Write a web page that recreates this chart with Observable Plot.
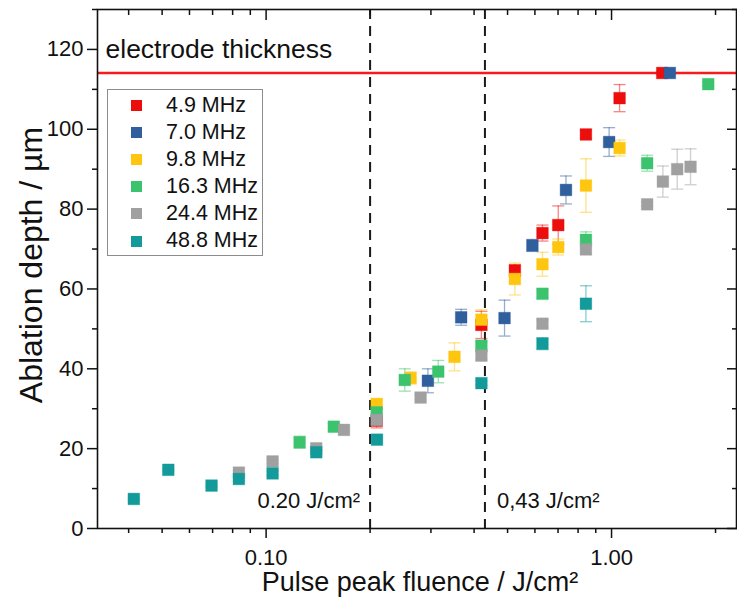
<!DOCTYPE html>
<html><head><meta charset="utf-8">
<script src="https://cdn.jsdelivr.net/npm/d3@7"></script>
<script src="https://cdn.jsdelivr.net/npm/@observablehq/plot@0.6"></script>
<style>
body{margin:0;background:#fff;}
#wrap{position:relative;width:737px;height:616px;font-family:"Liberation Sans",Arial,sans-serif;}
#legend{position:absolute;left:107px;top:89px;width:156px;height:167px;border:1px solid #8c8c8c;box-sizing:border-box;background:#fff;padding-top:2px;}
.row{display:flex;align-items:center;height:27.1px;}
.sw{width:11px;height:11px;margin-left:23px;}
.lb{margin-left:24px;font-size:21.5px;color:#111;line-height:1;}
</style></head><body><div id="wrap"></div>
<script>
// ---- data ----
const seriesNames = ["4.9 MHz","7.0 MHz","9.8 MHz","16.3 MHz","24.4 MHz","48.8 MHz"];
const seriesColors = ["#ec0d0d","#2f5f9c","#ffc60f","#3cc36e","#a0a0a0","#139a9a"];

const fluence49 = [0.209,0.420,0.525,0.631,0.701,0.843,1.055,1.402];
const depth49   = [27.0,51.0,64.6,74.0,76.0,98.7,107.8,114.1];
const err49     = [1.8,3.4,1.5,2.0,4.8,1.0,3.4,0.5];

const fluence70 = [0.294,0.367,0.490,0.590,0.738,0.984,1.475];
const depth70   = [37.0,52.9,52.7,70.9,84.8,96.8,114.1];
const err70     = [3.0,2.0,4.5,1.5,3.5,3.6,0.5];

const fluence98 = [0.209,0.262,0.351,0.420,0.525,0.631,0.701,0.843,1.055];
const depth98   = [31.2,37.7,43.0,52.3,62.5,66.2,70.5,85.9,95.3];
const err98     = [1.0,1.5,3.5,2.5,4.0,3.0,2.0,6.7,2.0];

const fluence163 = [0.125,0.157,0.209,0.252,0.315,0.420,0.631,0.843,1.268,1.905];
const depth163   = [21.6,25.5,29.1,37.2,39.3,45.8,58.8,72.3,91.5,111.3];
const err163     = [1.5,0.8,1.0,2.8,2.8,1.0,1.0,2.0,2.0,0.5];

const fluence244 = [0.0834,0.1044,0.1397,0.168,0.209,0.280,0.420,0.631,0.843,1.268,1.408,1.549,1.693];
const depth244   = [14.0,16.8,20.1,24.7,27.2,32.8,43.3,51.3,69.9,81.2,86.9,90.0,90.6];
const err244     = [0.5,0.5,0.5,0.5,1.0,0.5,1.0,1.0,1.0,0.5,3.9,5.0,4.5];

const fluence488 = [0.0414,0.0521,0.0695,0.0834,0.1044,0.1397,0.2094,0.420,0.631,0.843];
const depth488   = [7.4,14.7,10.75,12.4,13.8,19.1,22.25,36.4,46.3,56.3];
const err488     = [0.3,0.3,0.3,0.5,0.5,0.5,0.5,0.5,1.5,4.5];

const thresholds = [0.20, 0.43];
const thresholdLabels = ["0.20 J/cm²", "0,43 J/cm²"];
const electrodeThickness = 114.1;
const electrodeLabel = "electrode thickness";

const xMajorTicks = [0.1, 1];
const xMinorTicks = [0.04,0.05,0.06,0.07,0.08,0.09,0.2,0.3,0.4,0.5,0.6,0.7,0.8,0.9,2];
const yMajorTicks = [0,20,40,60,80,100,120];
const yMinorTicks = [10,30,50,70,90,110,130];
const xTitle = "Pulse peak fluence / J/cm²";
const yTitle = "Ablation depth / µm";

// ---- build table ----
const seriesData = [
  [fluence49, depth49, err49],
  [fluence70, depth70, err70],
  [fluence98, depth98, err98],
  [fluence163, depth163, err163],
  [fluence244, depth244, err244],
  [fluence488, depth488, err488]
];
const rows = [];
seriesData.forEach(([xs, ys, es], i) => {
  xs.forEach((x, j) => rows.push({series: seriesNames[i], x, y: ys[j], e: es[j]}));
});

const capSymbol = {draw(ctx, size) { const w = Math.sqrt(size / Math.PI); ctx.moveTo(-w, 0); ctx.lineTo(w, 0); }};
const font = "Liberation Sans, Arial, sans-serif";
const blank = () => "";

const chart = Plot.plot({
  width: 737, height: 616,
  marginLeft: 97, marginRight: 1, marginTop: 9, marginBottom: 88,
  style: {fontFamily: font, fontSize: "22px", color: "#111", background: "#fff"},
  x: {type: "log", domain: [0.0325, 2.30], label: null},
  y: {domain: [0, 130], label: null},
  color: {domain: seriesNames, range: seriesColors},
  marks: [
    Plot.ruleX(thresholds, {stroke: "#1a1a1a", strokeWidth: 2, strokeDasharray: "10,7"}),
    Plot.ruleY([electrodeThickness], {stroke: "#f51c1c", strokeWidth: 2.3}),
    Plot.text([electrodeLabel], {frameAnchor: "left", y: [electrodeThickness], textAnchor: "start", lineAnchor: "bottom", dx: 8, dy: -15, fontSize: 26.5, fill: "#111"}),
    Plot.text([thresholds[0]], {x: d => d, frameAnchor: "bottom", text: () => thresholdLabels[0], textAnchor: "end", lineAnchor: "bottom", dx: -10, dy: -21, fontSize: 22, fill: "#111"}),
    Plot.text([thresholds[1]], {x: d => d, frameAnchor: "bottom", text: () => thresholdLabels[1], textAnchor: "start", lineAnchor: "bottom", dx: 12, dy: -21, fontSize: 22, fill: "#111"}),
    // error bars
    Plot.ruleX(rows, {x: "x", y1: d => d.y - d.e, y2: d => d.y + d.e, stroke: "series", strokeOpacity: 0.5, strokeWidth: 1.3}),
    Plot.dot(rows, {x: "x", y: d => d.y + d.e, symbol: capSymbol, r: 6, fill: "none", stroke: "series", strokeOpacity: 0.5, strokeWidth: 1.3}),
    Plot.dot(rows, {x: "x", y: d => d.y - d.e, symbol: capSymbol, r: 6, fill: "none", stroke: "series", strokeOpacity: 0.5, strokeWidth: 1.3}),
    // markers
    Plot.dot(rows, {x: "x", y: "y", symbol: "square", r: 6.6, fill: "series", stroke: "series", strokeOpacity: 0.35, strokeWidth: 1}),
    // axes
    Plot.frame({stroke: "#111", strokeWidth: 1.6}),
    Plot.axisX({anchor: "bottom", ticks: xMajorTicks, tickSize: 10, tickFormat: blank, label: null, strokeWidth: 1.5}),
    Plot.axisX({anchor: "bottom", ticks: xMinorTicks, tickSize: 5, tickFormat: blank, label: null, strokeWidth: 1.5}),
    Plot.axisX({anchor: "top", ticks: xMajorTicks, tickSize: -10, tickFormat: blank, label: null, strokeWidth: 1.5}),
    Plot.axisX({anchor: "top", ticks: xMinorTicks, tickSize: -5, tickFormat: blank, label: null, strokeWidth: 1.5}),
    Plot.axisX({anchor: "bottom", ticks: xMajorTicks, tickSize: 0, tickPadding: 21, tickFormat: d3.format(".2f"), label: null, fontSize: 22}),
    Plot.axisY({anchor: "left", ticks: yMajorTicks, tickSize: 10, tickFormat: blank, label: null, strokeWidth: 1.5}),
    Plot.axisY({anchor: "left", ticks: yMinorTicks, tickSize: 5, tickFormat: blank, label: null, strokeWidth: 1.5}),
    Plot.axisY({anchor: "right", ticks: yMajorTicks, tickSize: -10, tickFormat: blank, label: null, strokeWidth: 1.5}),
    Plot.axisY({anchor: "right", ticks: yMinorTicks, tickSize: -5, tickFormat: blank, label: null, strokeWidth: 1.5}),
    Plot.axisY({anchor: "left", ticks: yMajorTicks, tickSize: 0, tickPadding: 14, label: null, fontSize: 22}),
    Plot.text([xTitle], {frameAnchor: "bottom", textAnchor: "middle", dx: 3, dy: 62, fontSize: 27, fill: "#111"}),
    Plot.text([yTitle], {frameAnchor: "left", textAnchor: "middle", rotate: -90, dx: -66, dy: -4, fontSize: 32, fill: "#111"})
  ]
});

const wrap = document.getElementById("wrap");
wrap.appendChild(chart);
const legend = document.createElement("div");
legend.id = "legend";
seriesNames.forEach((name, i) => {
  const row = document.createElement("div");
  row.className = "row";
  const sw = document.createElement("div");
  sw.className = "sw";
  sw.style.background = seriesColors[i];
  const lb = document.createElement("div");
  lb.className = "lb";
  lb.textContent = name;
  row.appendChild(sw); row.appendChild(lb);
  legend.appendChild(row);
});
wrap.appendChild(legend);
</script></body></html>
